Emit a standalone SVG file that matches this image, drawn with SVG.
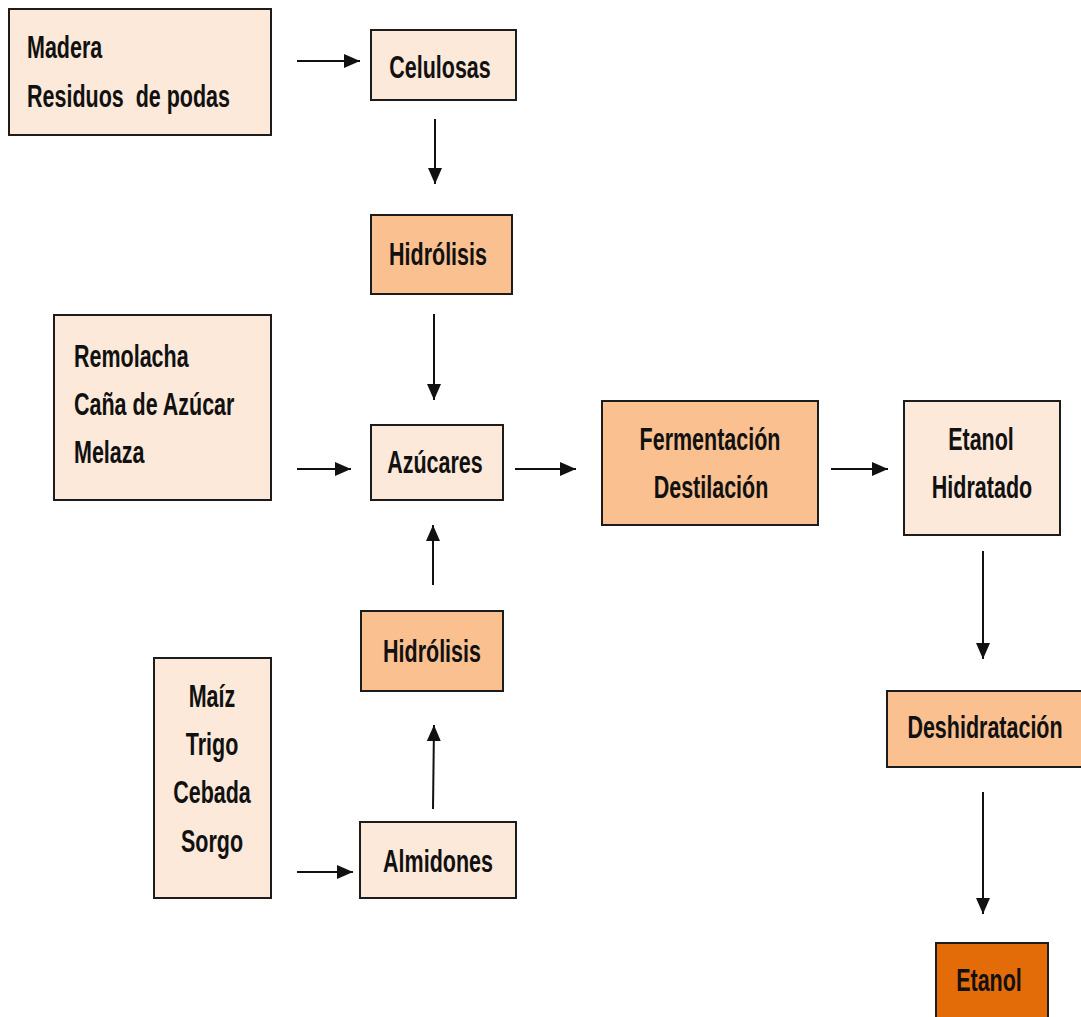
<svg xmlns="http://www.w3.org/2000/svg" width="1081" height="1017" viewBox="0 0 1081 1017">
  <style>
    .box { stroke: #1c1c1c; stroke-width: 2; }
    .light { fill: #FDE9D9; }
    .mid { fill: #FAC090; }
    .dark { fill: #E36C09; }
    .lbl { font-family: "Liberation Sans", Arial, sans-serif; font-weight: bold; font-size: 21.5px; fill: #111; }
    .c { text-anchor: middle; }
    .conn { stroke: #111; stroke-width: 2; fill: none; marker-end: url(#head); }
  </style>
  <defs>
    <marker id="head" markerUnits="userSpaceOnUse" markerWidth="18" markerHeight="16" refX="16" refY="8" orient="auto">
      <path d="M0,1 L16,8 L0,15 Z" fill="#111"/>
    </marker>
  </defs>
  <rect width="1081" height="1017" fill="#ffffff"/>

  <g id="connectors">
    <line class="conn" x1="297" y1="61" x2="360" y2="61"/>
    <line class="conn" x1="435" y1="119" x2="435" y2="184"/>
    <line class="conn" x1="434" y1="314" x2="434" y2="400"/>
    <line class="conn" x1="297" y1="469" x2="351" y2="469"/>
    <line class="conn" x1="433" y1="585" x2="433" y2="525"/>
    <line class="conn" x1="515" y1="469" x2="576" y2="469"/>
    <line class="conn" x1="831" y1="469" x2="888" y2="469"/>
    <line class="conn" x1="983" y1="551" x2="983" y2="659"/>
    <line class="conn" x1="433" y1="809" x2="434" y2="725"/>
    <line class="conn" x1="297" y1="872" x2="353" y2="872"/>
    <line class="conn" x1="983" y1="792" x2="983" y2="914"/>
  </g>

  <g id="madera">
    <rect class="box light" x="9" y="9" width="262" height="126"/>
    <text class="lbl" transform="translate(27,58) scale(1,1.5)">Madera</text>
    <text class="lbl" transform="translate(27,107) scale(1,1.5)" xml:space="preserve">Residuos  de podas</text>
  </g>

  <g id="celulosas">
    <rect class="box light" x="371" y="30" width="145" height="70"/>
    <text class="lbl c" transform="translate(440,78) scale(1,1.5)">Celulosas</text>
  </g>

  <g id="hidrolisis-1">
    <rect class="box mid" x="371" y="215" width="141" height="79"/>
    <text class="lbl c" transform="translate(438,265) scale(1,1.5)">Hidrólisis</text>
  </g>

  <g id="remolacha">
    <rect class="box light" x="54" y="315" width="217" height="185"/>
    <text class="lbl" transform="translate(74,367) scale(1,1.5)">Remolacha</text>
    <text class="lbl" transform="translate(74,415) scale(1,1.5)">Caña de Azúcar</text>
    <text class="lbl" transform="translate(74,463) scale(1,1.5)">Melaza</text>
  </g>

  <g id="azucares">
    <rect class="box light" x="371" y="425" width="132" height="75"/>
    <text class="lbl c" transform="translate(435,473) scale(1,1.5)">Azúcares</text>
  </g>

  <g id="fermentacion">
    <rect class="box mid" x="602" y="401" width="216" height="124"/>
    <text class="lbl c" transform="translate(710,450) scale(1,1.5)">Fermentación</text>
    <text class="lbl c" transform="translate(711,498) scale(1,1.5)">Destilación</text>
  </g>

  <g id="etanol-hidratado">
    <rect class="box light" x="904" y="401" width="156" height="134"/>
    <text class="lbl c" transform="translate(981,450) scale(1,1.5)">Etanol</text>
    <text class="lbl c" transform="translate(982,498) scale(1,1.5)">Hidratado</text>
  </g>

  <g id="hidrolisis-2">
    <rect class="box mid" x="361" y="611" width="142" height="80"/>
    <text class="lbl c" transform="translate(432,662) scale(1,1.5)">Hidrólisis</text>
  </g>

  <g id="maiz">
    <rect class="box light" x="154" y="658" width="117" height="240"/>
    <text class="lbl c" transform="translate(212,707) scale(1,1.5)">Maíz</text>
    <text class="lbl c" transform="translate(212,755) scale(1,1.5)">Trigo</text>
    <text class="lbl c" transform="translate(212,803) scale(1,1.5)">Cebada</text>
    <text class="lbl c" transform="translate(212,852) scale(1,1.5)">Sorgo</text>
  </g>

  <g id="almidones">
    <rect class="box light" x="360" y="822" width="156" height="76"/>
    <text class="lbl c" transform="translate(438,872) scale(1,1.5)">Almidones</text>
  </g>

  <g id="deshidratacion">
    <rect class="box mid" x="887" y="691" width="200" height="76"/>
    <text class="lbl c" transform="translate(985,738) scale(1,1.5)">Deshidratación</text>
  </g>

  <g id="etanol">
    <rect class="box dark" x="936" y="943" width="112" height="90"/>
    <text class="lbl c" transform="translate(989,991) scale(1,1.5)">Etanol</text>
  </g>
</svg>
